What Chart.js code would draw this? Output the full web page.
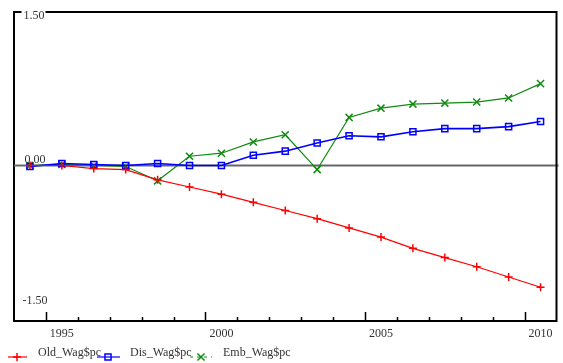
<!DOCTYPE html>
<html>
<head>
<meta charset="utf-8">
<script src="https://cdn.jsdelivr.net/npm/chart.js@4.4.1/dist/chart.umd.min.js"></script>
<style>
html,body{margin:0;padding:0;background:#fff;}
#c{display:block;}
</style>
</head>
<body>
<canvas id="c" width="563" height="363"></canvas>
<script>
const years = [1994,1995,1996,1997,1998,1999,2000,2001,2002,2003,2004,2005,2006,2007,2008,2009,2010];
const oldWag = [0.00,0.00,-0.03,-0.04,-0.14,-0.21,-0.28,-0.36,-0.44,-0.52,-0.61,-0.70,-0.81,-0.90,-0.99,-1.09,-1.19];
const disWag = [-0.01,0.02,0.01,0.00,0.02,0.00,0.00,0.10,0.14,0.22,0.29,0.28,0.33,0.36,0.36,0.38,0.43];
const embWag = [0.00,0.01,0.00,-0.01,-0.15,0.09,0.12,0.23,0.30,-0.04,0.47,0.56,0.60,0.61,0.62,0.66,0.80];
const seriesNames = ['Old_Wag$pc','Dis_Wag$pc','Emb_Wag$pc'];
const xLabelYears = [1995,2000,2005,2010];
const yTickValues = [1.5,0,-1.5];

const FONT = '12px "Liberation Serif", "DejaVu Serif", serif';
const TEXT = '#333';

function pts(arr){ return years.map((y,i)=>({x:y+0.5, y:arr[i]})); }

const decor = {
  id:'decor',
  beforeDatasetsDraw(chart){
    const {ctx, chartArea:a, scales:{y}} = chart;
    const y0 = y.getPixelForValue(0);
    ctx.save();
    ctx.strokeStyle = '#666';
    ctx.lineWidth = 2;
    ctx.beginPath(); ctx.moveTo(a.left, y0); ctx.lineTo(a.right+2, y0); ctx.stroke();
    ctx.restore();
  },
  afterDraw(chart){
    const {ctx, chartArea:a, scales:{x,y}} = chart;
    ctx.save();
    ctx.strokeStyle = '#000';
    ctx.lineWidth = 2;
    ctx.font = FONT; ctx.fillStyle = TEXT; ctx.textAlign = 'left'; ctx.textBaseline = 'alphabetic';
    let gap = null;
    yTickValues.forEach((v,i)=>{
      const py = y.getPixelForValue(v);
      const t = v.toFixed(2);
      let tx, ty;
      if (i===0){ tx = 23.5; ty = py + 7; gap=[tx-2, tx+ctx.measureText(t).width+1]; }
      else if (i===1){ tx = 24.5; ty = py - 2; }
      else { tx = 22.5; ty = py - 14.5; }
      ctx.fillText(t, tx, ty);
    });
    ctx.beginPath();
    ctx.moveTo(a.left-1, a.top); ctx.lineTo(gap[0], a.top);
    ctx.moveTo(gap[1], a.top); ctx.lineTo(a.right+1, a.top);
    ctx.moveTo(a.right, a.top); ctx.lineTo(a.right, a.bottom+1);
    ctx.stroke();
    ctx.lineWidth = 1.5;
    ctx.beginPath();
    for (let yr = years[0]+1; yr <= years[years.length-1]; yr++){
      const px = Math.round(x.getPixelForValue(yr))+0.5;
      const len = (yr % 5 === 0) ? 9 : 4;
      ctx.moveTo(px, a.bottom); ctx.lineTo(px, a.bottom-len);
    }
    ctx.stroke();
    const ly = 357;
    const ds = chart.data.datasets;
    const items = [
      {x0:8, x1:27, mx:17, tx:38},
      {x0:97, x1:120, mx:108, tx:130},
      {x0:190, x1:212, mx:201, tx:223}
    ];
    items.forEach((it,i)=>{
      const d = ds[i];
      ctx.save();
      ctx.strokeStyle = d.borderColor; ctx.lineWidth = 1.2;
      if (i===2) ctx.setLineDash([3,4]);
      ctx.beginPath(); ctx.moveTo(it.x0, ly); ctx.lineTo(it.x1, ly); ctx.stroke();
      ctx.setLineDash([]);
      ctx.fillStyle = 'rgba(0,0,0,0)';
      ctx.lineWidth = d.pointBorderWidth;
      Chart.helpers.drawPoint(ctx, {pointStyle:d.pointStyle, radius:d.pointRadius, borderWidth:d.pointBorderWidth}, it.mx, ly);
      ctx.restore();
      ctx.font = FONT; ctx.fillStyle = TEXT; ctx.textAlign='left'; ctx.textBaseline='alphabetic';
      ctx.fillText(seriesNames[i], it.tx, ly-1);
    });
    ctx.restore();
  }
};

new Chart(document.getElementById('c'), {
  type:'line',
  data:{
    datasets:[
      {label:seriesNames[0], data:pts(oldWag), borderColor:'#ff0000', backgroundColor:'#ff0000', borderWidth:1.2,
       pointStyle:'cross', pointRadius:4, pointBorderWidth:1.5, pointBorderColor:'#ff0000'},
      {label:seriesNames[1], data:pts(disWag), borderColor:'#0000ff', backgroundColor:'rgba(0,0,0,0)', borderWidth:1.6,
       pointStyle:'rect', pointRadius:4.3, pointBorderWidth:1.5, pointBorderColor:'#0000ff'},
      {label:seriesNames[2], data:pts(embWag), borderColor:'#108a10', backgroundColor:'#108a10', borderWidth:1.2,
       pointStyle:'crossRot', pointRadius:5, pointBorderWidth:1.5, pointBorderColor:'#108a10'}
    ]
  },
  options:{
    responsive:false, animation:false, devicePixelRatio:1,
    layout:{padding:{left:14, right:4, top:12, bottom:0}},
    elements:{line:{tension:0, fill:false}},
    plugins:{legend:{display:false}, tooltip:{enabled:false}},
    scales:{
      x:{type:'linear', min:1994, max:2011,
         afterBuildTicks:s=>{ s.ticks = xLabelYears.map(v=>({value:v+0.5})); },
         afterFit:s=>{ s.height = 42; },
         ticks:{callback:v=>String(Math.floor(v)), font:{family:'"Liberation Serif", serif', size:12}, color:TEXT,
                padding:6, maxRotation:0, autoSkip:false},
         grid:{display:false, drawTicks:false},
         border:{display:true, color:'#000', width:2}},
      y:{type:'linear', min:-1.52, max:1.5,
         afterFit:s=>{ s.width = 0; },
         ticks:{display:false},
         grid:{display:false, drawTicks:false},
         border:{display:true, color:'#000', width:2}}
    }
  },
  plugins:[decor]
});
</script>
</body>
</html>
